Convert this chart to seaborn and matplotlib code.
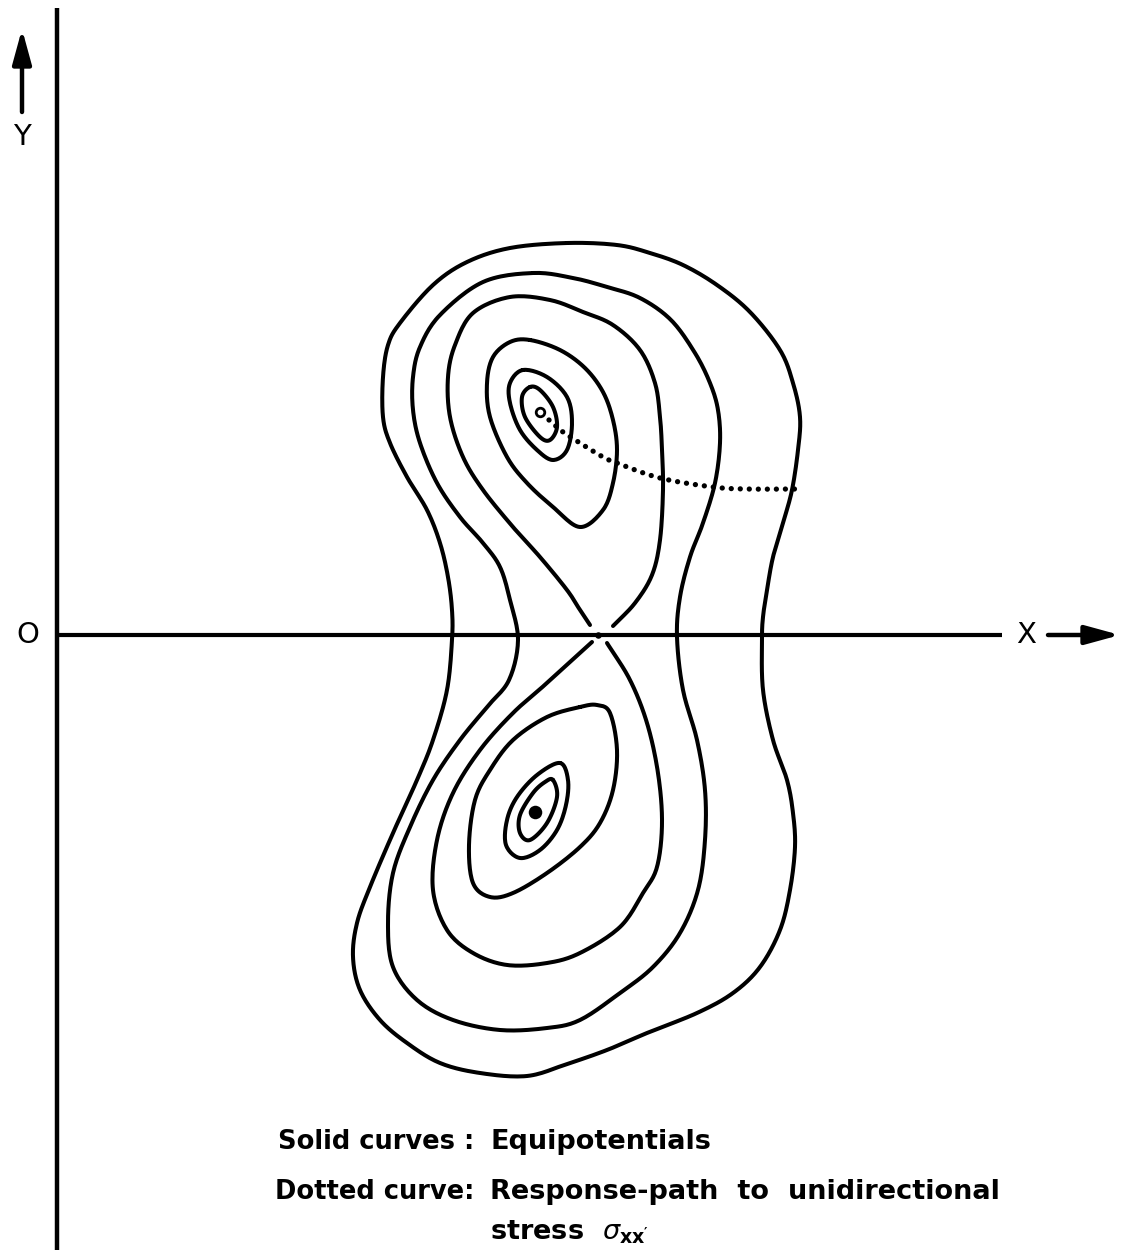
import numpy as np
import matplotlib
matplotlib.use("Agg")
import matplotlib.pyplot as plt
import seaborn as sns

# ---------------------------------------------------------------
# Equipotential curves of the double-well energy surface, (X, Y) in
# axis units with O at the crossing of the axes.
# ---------------------------------------------------------------
outer_x = [5.10, 5.60, 5.93, 6.26, 6.60, 6.93, 7.23, 7.36, 7.43, 7.41, 7.35, 7.26,
           7.16, 7.10, 7.06, 7.05, 7.06, 7.16, 7.30, 7.36, 7.38, 7.33, 7.23, 7.03,
           6.76, 6.40, 5.90, 5.50, 5.10, 4.70, 4.23, 3.83, 3.50, 3.23, 3.03, 2.96,
           3.00, 3.13, 3.36, 3.60, 3.76, 3.90, 3.95, 3.95, 3.91, 3.83, 3.70, 3.50,
           3.33, 3.26, 3.26, 3.31, 3.43, 3.76, 4.10, 4.53]
outer_y = [3.92, 3.90, 3.82, 3.70, 3.50, 3.23, 2.85, 2.52, 2.18, 1.85, 1.45, 1.12,
           0.78, 0.45, 0.18, -0.05, -0.55, -1.05, -1.45, -1.78, -2.12, -2.55, -2.95, -3.32,
           -3.58, -3.78, -3.98, -4.15, -4.29, -4.41, -4.38, -4.28, -4.08, -3.85, -3.55, -3.22,
           -2.88, -2.52, -1.98, -1.45, -1.05, -0.55, -0.05, 0.25, 0.58, 0.92, 1.25, 1.58,
           1.92, 2.18, 2.58, 2.90, 3.12, 3.50, 3.73, 3.87]

second_x = [4.76, 5.16, 5.50, 5.83, 6.14, 6.38, 6.53, 6.61, 6.63, 6.58, 6.46, 6.33,
            6.23, 6.20, 6.26, 6.40, 6.48, 6.48, 6.41, 6.23, 5.96, 5.63, 5.23, 4.90,
            4.43, 3.96, 3.60, 3.36, 3.31, 3.36, 3.53, 3.76, 4.03, 4.30, 4.52, 4.61,
            4.53, 4.43, 4.26, 4.03, 3.80, 3.63, 3.56, 3.56, 3.63, 3.83, 4.26]
second_y = [3.62, 3.57, 3.48, 3.37, 3.15, 2.82, 2.52, 2.25, 1.92, 1.52, 1.12, 0.78,
            0.38, -0.02, -0.55, -1.05, -1.55, -2.05, -2.55, -2.98, -3.32, -3.58, -3.85, -3.93,
            -3.95, -3.85, -3.65, -3.32, -2.88, -2.38, -1.92, -1.45, -1.05, -0.72, -0.45, -0.05,
            0.35, 0.68, 0.92, 1.18, 1.52, 1.92, 2.25, 2.58, 2.88, 3.20, 3.53]

# Separatrix: the two lobes of the figure eight meeting at the saddle point
sep_upper_x = [5.33, 5.23, 5.10, 4.83, 4.56, 4.26, 4.06, 3.93, 3.91, 3.98, 4.16, 4.53,
               4.93, 5.26, 5.56, 5.83, 5.98, 6.03, 6.05, 6.06, 6.03, 5.95, 5.78, 5.56]
sep_upper_y = [0.10, 0.25, 0.45, 0.78, 1.08, 1.45, 1.78, 2.18, 2.58, 2.90, 3.22, 3.38,
               3.35, 3.23, 3.10, 2.85, 2.52, 2.18, 1.85, 1.45, 0.95, 0.60, 0.32, 0.09]
sep_lower_x = [5.35, 5.13, 4.90, 4.56, 4.23, 3.96, 3.80, 3.76, 3.90, 4.16, 4.50, 4.90,
               5.23, 5.63, 5.86, 6.00, 6.05, 6.01, 5.90, 5.73, 5.50]
sep_lower_y = [-0.07, -0.27, -0.48, -0.78, -1.15, -1.58, -2.05, -2.55, -2.95, -3.18, -3.30, -3.28,
               -3.18, -2.92, -2.58, -2.32, -1.88, -1.38, -0.88, -0.45, -0.08]

# Rings around the upper minimum
up1_x = [4.73, 5.03, 5.28, 5.46, 5.56, 5.60, 5.56, 5.46, 5.23, 4.96, 4.70, 4.50, 4.33, 4.30, 4.36, 4.53]
up1_y = [2.95, 2.85, 2.67, 2.43, 2.15, 1.85, 1.52, 1.25, 1.08, 1.28, 1.52, 1.78, 2.18, 2.52, 2.78, 2.93]
up2_x = [4.66, 4.90, 5.10, 5.15, 5.10, 4.96, 4.80, 4.63, 4.53, 4.53]
up2_y = [2.65, 2.58, 2.38, 2.12, 1.85, 1.75, 1.85, 2.05, 2.32, 2.52]
up3_x = [4.73, 4.83, 4.96, 5.00, 4.93, 4.83, 4.68, 4.65]
up3_y = [2.48, 2.45, 2.28, 2.08, 1.95, 1.98, 2.18, 2.38]

# Rings around the lower minimum
lo1_x = [5.23, 5.40, 5.53, 5.60, 5.56, 5.43, 5.23, 4.90, 4.56, 4.33, 4.16, 4.12, 4.18, 4.33, 4.56, 4.90]
lo1_y = [-0.72, -0.70, -0.78, -1.15, -1.55, -1.88, -2.12, -2.38, -2.58, -2.62, -2.48, -2.10, -1.65, -1.35, -1.05, -0.82]
lo2_x = [5.03, 5.11, 5.09, 5.00, 4.83, 4.63, 4.49, 4.50, 4.60, 4.80]
lo2_y = [-1.28, -1.45, -1.70, -1.95, -2.15, -2.23, -2.10, -1.85, -1.62, -1.40]
lo3_x = [4.96, 5.00, 4.90, 4.73, 4.63, 4.63, 4.76, 4.88]
lo3_y = [-1.45, -1.62, -1.88, -2.05, -1.98, -1.80, -1.58, -1.47]

# Stationary points
upper_min = (4.83, 2.23)
lower_min = (4.78, -1.77)
saddle = (5.41, 0.00)

# Response path under unidirectional stress
path_x = [4.92, 5.06, 5.23, 5.46, 5.60, 6.03, 6.56, 6.90, 7.43]
path_y = [2.15, 2.03, 1.92, 1.78, 1.72, 1.57, 1.48, 1.46, 1.46]

legend_keys = ["Solid curves :", "Dotted curve:"]
legend_text = ["Equipotentials", "Response-path  to  unidirectional"]
stress_text = r"stress  $\sigma_{\mathregular{xx'}}$"


def smooth(x, y, closed=True, n=14):
    """Catmull-Rom curve through the traced points."""
    p = np.column_stack([x, y]).astype(float)
    if closed:
        p = np.vstack([p[-1], p, p[0], p[1]])
    else:
        p = np.vstack([2 * p[0] - p[1], p, 2 * p[-1] - p[-2]])
    t = np.linspace(0, 1, n, endpoint=False)[:, None]
    segs = []
    for i in range(1, len(p) - 2):
        p0, p1, p2, p3 = p[i - 1], p[i], p[i + 1], p[i + 2]
        segs.append(0.5 * (2 * p1 + (-p0 + p2) * t
                           + (2 * p0 - 5 * p1 + 4 * p2 - p3) * t ** 2
                           + (-p0 + 3 * p1 - 3 * p2 + p3) * t ** 3))
    segs.append(p[-2][None])
    pts = np.vstack(segs)
    return pts[:, 0], pts[:, 1]


sns.set_theme(style="white")
plt.rcParams["font.family"] = ["DejaVu Sans"]
plt.rcParams["text.color"] = "black"

fig = plt.figure(figsize=(11.36, 12.57), dpi=100)
ax = fig.add_axes([0, 0, 1, 1])
ax.set_xlim(-0.57, 10.79)
ax.set_ylim(-6.22, 6.35)
ax.axis("off")

LW = 2.9
line_kw = dict(color="black", lw=LW, sort=False, estimator=None, legend=False, ax=ax,
               solid_capstyle="round", solid_joinstyle="round")

closed_curves = [(outer_x, outer_y), (second_x, second_y),
                 (up1_x, up1_y), (up2_x, up2_y), (up3_x, up3_y),
                 (lo1_x, lo1_y), (lo2_x, lo2_y), (lo3_x, lo3_y)]
for cx, cy in closed_curves:
    sx, sy = smooth(cx, cy, closed=True)
    sns.lineplot(x=sx, y=sy, **line_kw)

for cx, cy in [(sep_upper_x, sep_upper_y), (sep_lower_x, sep_lower_y)]:
    sx, sy = smooth(cx, cy, closed=False)
    sns.lineplot(x=sx, y=sy, **line_kw)

# dotted response path
px, py = smooth(path_x, path_y, closed=False)
sns.lineplot(x=px, y=py, color="black", lw=3.8, sort=False, estimator=None, legend=False,
             ax=ax, linestyle=(0, (0.01, 1.7)), dash_capstyle="round")

# stationary points
sns.scatterplot(x=[upper_min[0]], y=[upper_min[1]], s=38, marker="o", facecolor="white",
                edgecolor="black", linewidth=2.0, ax=ax, zorder=5)
sns.scatterplot(x=[lower_min[0]], y=[lower_min[1]], s=95, marker="o", color="black",
                linewidth=0, ax=ax, zorder=5)
sns.scatterplot(x=[saddle[0]], y=[saddle[1]], s=22, marker="o", color="black",
                linewidth=0, ax=ax, zorder=5)

# coordinate axes
ax.plot([0, 0], [-6.15, 6.27], color="black", lw=3.2, solid_capstyle="butt")
ax.plot([0, 9.45], [0, 0], color="black", lw=3.0, solid_capstyle="butt")
arrow = dict(arrowstyle="-|>,head_length=0.95,head_width=0.26", color="black", lw=3.2,
             shrinkA=0, shrinkB=0, mutation_scale=22)
ax.annotate("", xy=(10.63, 0), xytext=(9.91, 0), arrowprops=arrow)
ax.annotate("", xy=(-0.35, 6.06), xytext=(-0.35, 5.23), arrowprops=arrow)

ax.text(-0.35, 4.98, "Y", ha="center", va="center", fontsize=21, color="black")
ax.text(-0.29, 0.0, "O", ha="center", va="center", fontsize=21, color="black")
ax.text(9.69, 0.0, "X", ha="center", va="center", fontsize=21, color="black")

# key
key = dict(fontsize=18.5, fontweight="bold", va="baseline", color="black")
txt = dict(fontsize=19.5, fontweight="bold", va="baseline", color="black")
ax.text(4.17, -5.14, legend_keys[0], ha="right", **key)
ax.text(4.33, -5.14, legend_text[0], ha="left", **txt)
ax.text(4.17, -5.64, legend_keys[1], ha="right", **key)
ax.text(4.33, -5.64, legend_text[1], ha="left", **txt)
ax.text(4.33, -6.04, stress_text, ha="left", **txt)

fig.savefig("out.png", dpi=100, facecolor="white")
